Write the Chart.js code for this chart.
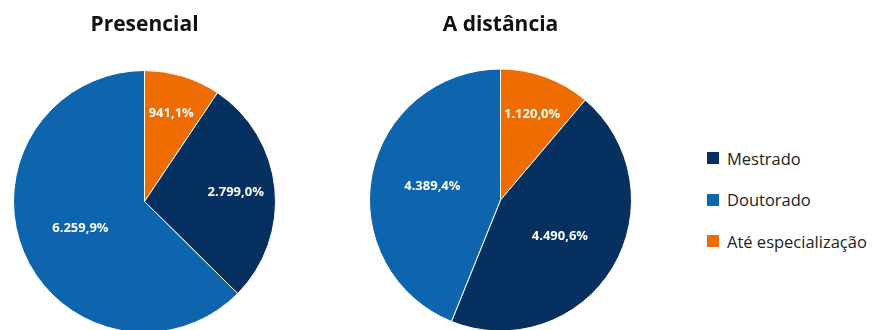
<!DOCTYPE html>
<html>
<head>
<meta charset="utf-8">
<script src="https://cdn.jsdelivr.net/npm/chart.js@4.4.1/dist/chart.umd.min.js"></script>
<style>
  html, body { margin: 0; padding: 0; background: #fff; }
  #wrap { position: relative; width: 875px; height: 330px; overflow: hidden; font-family: "Open Sans", sans-serif; }
  .pie { position: absolute; top: 0; width: 263px; height: 333px; }
  #legend { position: absolute; left: 707px; top: 145px; }
  .item { display: flex; align-items: center; height: 26px; margin-bottom: 15.5px; font-size: 16.5px; color: #222; white-space: nowrap; }
  .box { width: 12px; height: 12px; margin-right: 8px; flex: none; }
</style>
</head>
<body>
<div id="wrap">
  <div class="pie" style="left:13px"><canvas id="c1"></canvas></div>
  <div class="pie" style="left:369px"><canvas id="c2"></canvas></div>
  <div id="legend"></div>
</div>
<script>
// Categories in drawing order (clockwise from the top)
const categories = ['Até especialização', 'Mestrado', 'Doutorado'];
const colors = ['#EF6C00', '#06305F', '#0F65AD'];
const presencialValues = [941.1, 2799.0, 6259.9];
const distanciaValues = [1120.0, 4490.6, 4389.4];
const titles = ['Presencial', 'A distância'];
const legendOrder = ['Mestrado', 'Doutorado', 'Até especialização'];

// pt-BR number format: thousands ".", decimal ","
function fmt(v) {
  const parts = v.toFixed(1).split('.');
  const int = parts[0].replace(/\B(?=(\d{3})+(?!\d))/g, '.');
  return int + ',' + parts[1] + '%';
}

// Draws the value of each slice inside it
const sliceLabels = {
  id: 'sliceLabels',
  afterDatasetsDraw(chart) {
    const ctx = chart.ctx;
    const ds = chart.data.datasets[0];
    const total = ds.data.reduce((a, b) => a + b, 0);
    const meta = chart.getDatasetMeta(0);
    ctx.save();
    ctx.fillStyle = '#fff';
    ctx.font = 'bold 13px "Open Sans", sans-serif';
    ctx.textAlign = 'center';
    ctx.textBaseline = 'middle';
    meta.data.forEach((arc, i) => {
      const p = arc.getProps(['x', 'y', 'startAngle', 'endAngle', 'outerRadius'], true);
      const mid = (p.startAngle + p.endAngle) / 2;
      const share = ds.data[i] / total;
      const f = share < 0.3 ? 0.70 : 0.53;
      ctx.fillText(fmt(ds.data[i]), p.x + Math.cos(mid) * p.outerRadius * f, p.y + Math.sin(mid) * p.outerRadius * f);
    });
    ctx.restore();
  }
};

function makePie(id, values, title, padTop, padBottom) {
  return new Chart(document.getElementById(id), {
    type: 'pie',
    data: {
      labels: categories,
      datasets: [{ data: values, backgroundColor: colors, borderColor: '#fff', borderWidth: 1 }]
    },
    options: {
      responsive: true,
      maintainAspectRatio: false,
      animation: false,
      layout: { padding: 0 },
      plugins: {
        legend: { display: false },
        tooltip: { enabled: false },
        title: {
          display: true,
          text: title,
          color: '#111',
          font: { family: '"Open Sans", sans-serif', size: 21, weight: 'bold', lineHeight: 1.2 },
          padding: { top: 12, bottom: padBottom }
        }
      }
    },
    plugins: [sliceLabels]
  });
}

makePie('c1', presencialValues, titles[0], 12, 32.8);
makePie('c2', distanciaValues, titles[1], 12, 29.8);

// Legend
const legend = document.getElementById('legend');
legendOrder.forEach(name => {
  const i = categories.indexOf(name);
  const item = document.createElement('div');
  item.className = 'item';
  const box = document.createElement('span');
  box.className = 'box';
  box.style.background = colors[i];
  const txt = document.createElement('span');
  txt.textContent = name;
  item.appendChild(box);
  item.appendChild(txt);
  legend.appendChild(item);
});
</script>
</body>
</html>
